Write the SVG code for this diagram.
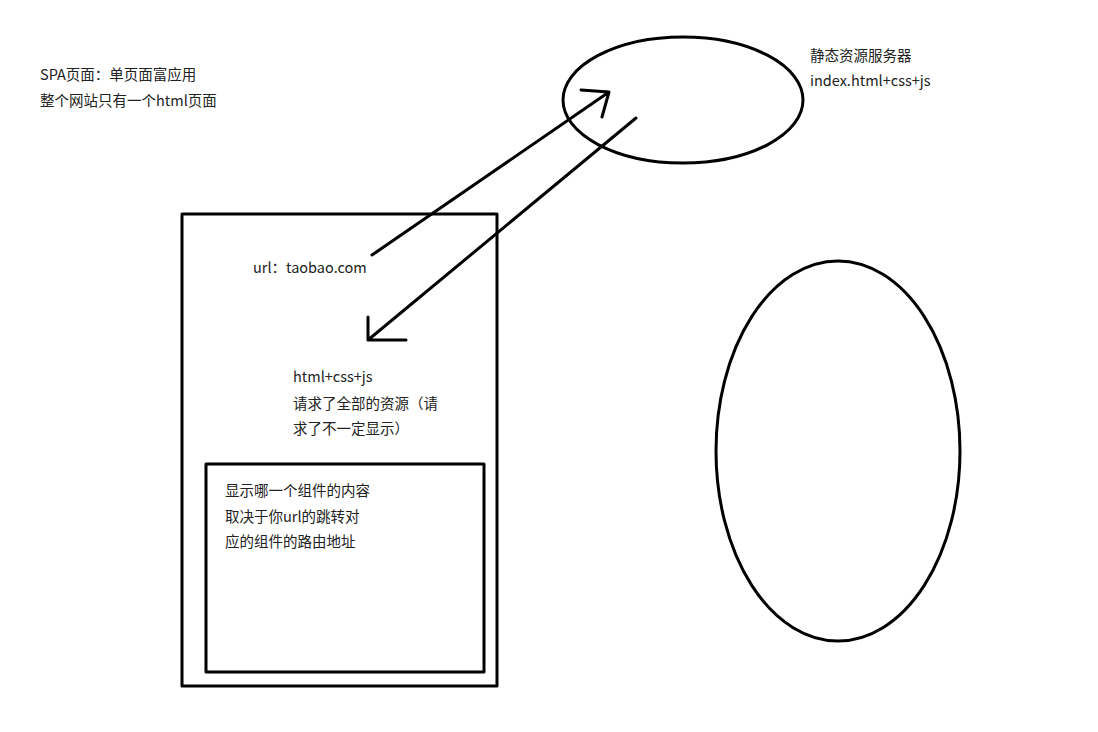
<svg xmlns="http://www.w3.org/2000/svg" width="1098" height="732" viewBox="0 0 1098 732">
<style>
.s{fill:none;stroke:#000;stroke-width:3;stroke-linecap:round;stroke-linejoin:round}
.t{font-family:"Microsoft YaHei","Noto Sans CJK SC","Noto Sans",sans-serif;font-size:14.5px;fill:#222}
</style>
<rect width="1098" height="732" fill="#fff"/>
<g id="intro">
<text class="t" x="40" y="80">SPA页面：单页面富应用</text>
<text class="t" x="40" y="106">整个网站只有一个html页面</text>
</g>
<g id="server">
<ellipse class="s" cx="683" cy="100" rx="120" ry="63"/>
<text class="t" x="810" y="61">静态资源服务器</text>
<text class="t" x="810" y="86">index.html+css+js</text>
</g>
<g id="right-ellipse">
<ellipse class="s" cx="838" cy="451" rx="122" ry="190"/>
</g>
<g id="page">
<rect class="s" x="182" y="214" width="315" height="472"/>
<text class="t" x="253" y="273">url：taobao.com</text>
<text class="t" x="293" y="382">html+css+js</text>
<text class="t" x="293" y="409">请求了全部的资源（请</text>
<text class="t" x="293" y="434">求了不一定显示）</text>
</g>
<g id="component">
<rect class="s" x="206" y="464" width="278" height="208"/>
<text class="t" x="225" y="496">显示哪一个组件的内容</text>
<text class="t" x="225" y="522">取决于你url的跳转对</text>
<text class="t" x="225" y="547">应的组件的路由地址</text>
</g>
<g id="connectors">
<path class="s" d="M372 255 L609 92 M581 90 L609 92 L602 117"/>
<path class="s" d="M636 118 L368 340 M368 317 L368 340 L406 340"/>
</g>
</svg>
